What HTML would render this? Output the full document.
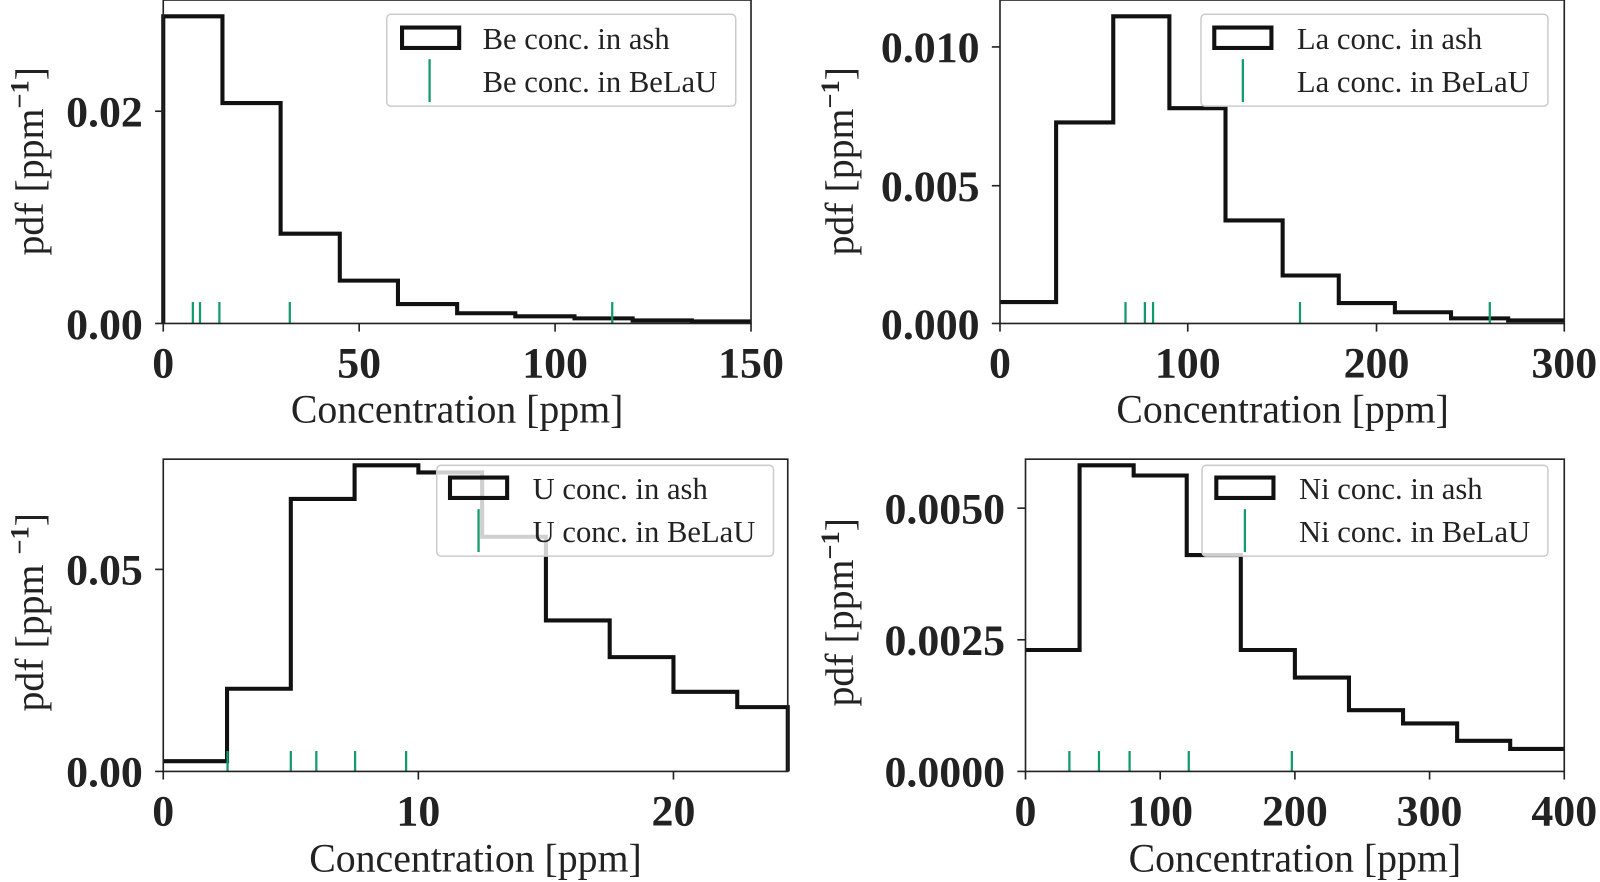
<!DOCTYPE html>
<html><head><meta charset="utf-8"><style>
html,body{margin:0;padding:0;background:#fff}
svg{display:block}
text{font-family:"Liberation Serif",serif;fill:#222}
.tk{font-size:43px;font-weight:bold}
.xl{font-size:39px}
.lg{font-size:30px}
.h{fill:none;stroke:#111;stroke-width:4}
.ax{fill:none;stroke:#222;stroke-width:1.6}
.g{stroke:#12996c;stroke-width:2.2}
.lb{fill:#fff;fill-opacity:0.8;stroke:#ccc;stroke-width:1.5}
</style></head><body>
<svg width="1600" height="882" viewBox="0 0 1600 882" xmlns="http://www.w3.org/2000/svg">
<g transform="scale(1.0204)">
<!-- Panel 1 Be -->
<g>
<path class="h" d="M160,317 V16 H218 V101 H275 V229 H333 V275 H390 V298 H448 V307 H505 V310 H563 V312 H620 V314 H678 V315 H736"/>
<g class="g"><line x1="189" y1="296" x2="189" y2="317"/><line x1="196" y1="296" x2="196" y2="317"/><line x1="215" y1="296" x2="215" y2="317"/><line x1="284" y1="296" x2="284" y2="317"/><line x1="600" y1="296" x2="600" y2="317"/></g>
<rect class="ax" x="160" y="0" width="576" height="317"/>
<g stroke="#222" stroke-width="1.6"><line x1="152" y1="317" x2="160" y2="317"/><line x1="152" y1="109" x2="160" y2="109"/><line x1="160" y1="317" x2="160" y2="325"/><line x1="352" y1="317" x2="352" y2="325"/><line x1="544" y1="317" x2="544" y2="325"/><line x1="736" y1="317" x2="736" y2="325"/></g>
<text class="tk" x="140" y="332" text-anchor="end">0.00</text>
<text class="tk" x="140" y="124" text-anchor="end">0.02</text>
<g class="tk" text-anchor="middle"><text x="160" y="370">0</text><text x="352" y="370">50</text><text x="544" y="370">100</text><text x="736" y="370">150</text></g>
<text class="xl" x="448" y="414" text-anchor="middle">Concentration [ppm]</text>
<text class="xl" transform="translate(42,158) rotate(-90)" text-anchor="middle">pdf [ppm<tspan dy="-14" font-size="26" font-weight="bold">−1</tspan><tspan dy="14">]</tspan></text>
<rect class="lb" x="379" y="14" width="342" height="90" rx="4"/>
<rect x="394" y="27" width="56" height="20" fill="none" stroke="#111" stroke-width="4"/>
<line class="g" x1="421" y1="58" x2="421" y2="100"/>
<text class="lg" x="473" y="48">Be conc. in ash</text>
<text class="lg" x="473" y="90">Be conc. in BeLaU</text>
</g>
<!-- Panel 2 La -->
<g>
<path class="h" d="M980,296 H1035 V120 H1091 V16 H1146 V106 H1201 V216 H1257 V270 H1312 V297 H1367 V306 H1422 V312 H1478 V314 H1533"/>
<g class="g"><line x1="1103" y1="296" x2="1103" y2="317"/><line x1="1122" y1="296" x2="1122" y2="317"/><line x1="1130" y1="296" x2="1130" y2="317"/><line x1="1274" y1="296" x2="1274" y2="317"/><line x1="1460" y1="296" x2="1460" y2="317"/></g>
<rect class="ax" x="980" y="0" width="553" height="317"/>
<g stroke="#222" stroke-width="1.6"><line x1="972" y1="317" x2="980" y2="317"/><line x1="972" y1="182" x2="980" y2="182"/><line x1="972" y1="46" x2="980" y2="46"/><line x1="980" y1="317" x2="980" y2="325"/><line x1="1164" y1="317" x2="1164" y2="325"/><line x1="1349" y1="317" x2="1349" y2="325"/><line x1="1533" y1="317" x2="1533" y2="325"/></g>
<text class="tk" x="960" y="332" text-anchor="end">0.000</text>
<text class="tk" x="960" y="197" text-anchor="end">0.005</text>
<text class="tk" x="960" y="61" text-anchor="end">0.010</text>
<g class="tk" text-anchor="middle"><text x="980" y="370">0</text><text x="1164" y="370">100</text><text x="1349" y="370">200</text><text x="1533" y="370">300</text></g>
<text class="xl" x="1257" y="414" text-anchor="middle">Concentration [ppm]</text>
<text class="xl" transform="translate(836,158) rotate(-90)" text-anchor="middle">pdf [ppm<tspan dy="-14" font-size="26" font-weight="bold">−1</tspan><tspan dy="14">]</tspan></text>
<rect class="lb" x="1177" y="14" width="340" height="90" rx="4"/>
<rect x="1190" y="27" width="56" height="20" fill="none" stroke="#111" stroke-width="4"/>
<line class="g" x1="1218" y1="58" x2="1218" y2="100"/>
<text class="lg" x="1271" y="48">La conc. in ash</text>
<text class="lg" x="1271" y="90">La conc. in BeLaU</text>
</g>
<!-- Panel 3 U -->
<g>
<path class="h" d="M160,746 H222.5 V675 H285 V489 H347.5 V456 H410 V463 H472.5 V526 H535 V608 H597.5 V644 H660 V678 H722.5 V693 H772 V756"/>
<g class="g"><line x1="223" y1="736" x2="223" y2="756"/><line x1="285" y1="736" x2="285" y2="756"/><line x1="310" y1="736" x2="310" y2="756"/><line x1="348" y1="736" x2="348" y2="756"/><line x1="398" y1="736" x2="398" y2="756"/></g>
<rect class="ax" x="160" y="450" width="612" height="306"/>
<g stroke="#222" stroke-width="1.6"><line x1="152" y1="756" x2="160" y2="756"/><line x1="152" y1="558" x2="160" y2="558"/><line x1="160" y1="756" x2="160" y2="764"/><line x1="410" y1="756" x2="410" y2="764"/><line x1="660" y1="756" x2="660" y2="764"/></g>
<text class="tk" x="140" y="771" text-anchor="end">0.00</text>
<text class="tk" x="140" y="573" text-anchor="end">0.05</text>
<g class="tk" text-anchor="middle"><text x="160" y="809">0</text><text x="410" y="809">10</text><text x="660" y="809">20</text></g>
<text class="xl" x="466" y="854" text-anchor="middle">Concentration [ppm]</text>
<text class="xl" transform="translate(42,600) rotate(-90)" text-anchor="middle">pdf [ppm <tspan dy="-14" font-size="26" font-weight="bold">−1</tspan><tspan dy="14">]</tspan></text>
<rect class="lb" x="428" y="456" width="330" height="89" rx="4"/>
<rect x="441" y="468" width="56" height="20" fill="none" stroke="#111" stroke-width="4"/>
<line class="g" x1="469" y1="499" x2="469" y2="541"/>
<text class="lg" x="522" y="489">U conc. in ash</text>
<text class="lg" x="522" y="531">U conc. in BeLaU</text>
</g>
<!-- Panel 4 Ni -->
<g>
<path class="h" d="M1005,637 H1058 V456 H1111 V466 H1163 V544 H1216 V637 H1269 V664 H1322 V696 H1375 V709 H1428 V726 H1480 V734 H1533"/>
<g class="g"><line x1="1048" y1="736" x2="1048" y2="756"/><line x1="1077" y1="736" x2="1077" y2="756"/><line x1="1107" y1="736" x2="1107" y2="756"/><line x1="1165" y1="736" x2="1165" y2="756"/><line x1="1266" y1="736" x2="1266" y2="756"/></g>
<rect class="ax" x="1005" y="450" width="528" height="306"/>
<g stroke="#222" stroke-width="1.6"><line x1="997" y1="756" x2="1005" y2="756"/><line x1="997" y1="627" x2="1005" y2="627"/><line x1="997" y1="498" x2="1005" y2="498"/><line x1="1005" y1="756" x2="1005" y2="764"/><line x1="1137" y1="756" x2="1137" y2="764"/><line x1="1269" y1="756" x2="1269" y2="764"/><line x1="1401" y1="756" x2="1401" y2="764"/><line x1="1533" y1="756" x2="1533" y2="764"/></g>
<text class="tk" x="985" y="771" text-anchor="end">0.0000</text>
<text class="tk" x="985" y="642" text-anchor="end">0.0025</text>
<text class="tk" x="985" y="513" text-anchor="end">0.0050</text>
<g class="tk" text-anchor="middle"><text x="1005" y="809">0</text><text x="1137" y="809">100</text><text x="1269" y="809">200</text><text x="1401" y="809">300</text><text x="1533" y="809">400</text></g>
<text class="xl" x="1269" y="854" text-anchor="middle">Concentration [ppm]</text>
<text class="xl" transform="translate(836,600) rotate(-90)" text-anchor="middle">pdf [ppm<tspan dy="-14" font-size="26" font-weight="bold">−1</tspan><tspan dy="14">]</tspan></text>
<rect class="lb" x="1178" y="456" width="339" height="89" rx="4"/>
<rect x="1192" y="468" width="56" height="20" fill="none" stroke="#111" stroke-width="4"/>
<line class="g" x1="1220" y1="499" x2="1220" y2="541"/>
<text class="lg" x="1273" y="489">Ni conc. in ash</text>
<text class="lg" x="1273" y="531">Ni conc. in BeLaU</text>
</g>
</g>
</svg>
</body></html>
